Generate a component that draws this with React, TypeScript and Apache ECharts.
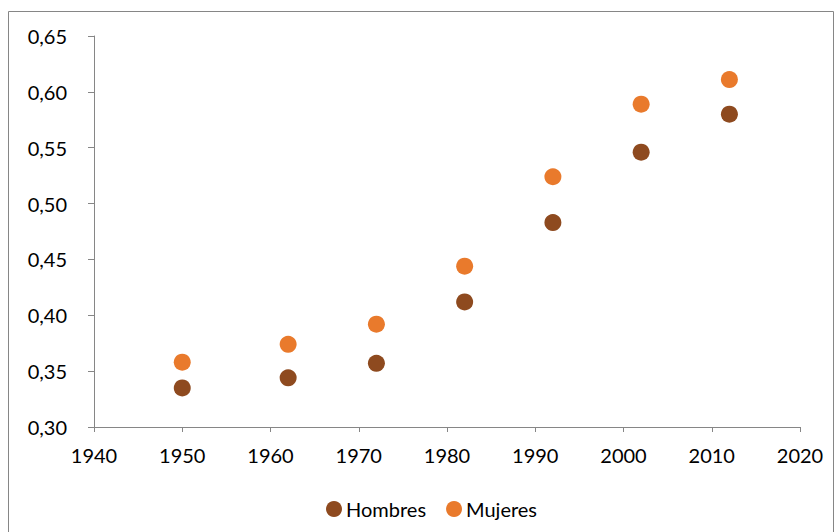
import React, { useEffect, useRef } from "react";
import * as echarts from "echarts";

const years = [1950, 1962, 1972, 1982, 1992, 2002, 2012];
const hombres = [0.335, 0.344, 0.357, 0.412, 0.483, 0.546, 0.580];
const mujeres = [0.358, 0.374, 0.392, 0.444, 0.524, 0.589, 0.611];
const seriesNames = ["Hombres", "Mujeres"];
const colors = ["#8E4A1F", "#E97A2C"];

export default function App() {
  const ref = useRef<HTMLDivElement>(null);
  useEffect(() => {
    if (!ref.current) return;
    const chart = echarts.init(ref.current, undefined, { renderer: "svg" });
    const font = "Lato, 'Open Sans', sans-serif";
    const axisLine = { show: true, lineStyle: { color: "#868686", width: 1 } };
    chart.setOption({
      animation: false,
      backgroundColor: "#ffffff",
      textStyle: { fontFamily: font },
      grid: { left: 94, right: 35, top: 36, bottom: 105 },
      legend: {
        top: 494,
        left: 321,
        itemGap: 20,
        itemWidth: 16,
        itemHeight: 16,
        textStyle: { fontSize: 20, color: "#000", fontFamily: font, padding: [0, 0, 0, -1] },
        data: seriesNames.map((n) => ({ name: n, icon: "circle" })),
      },
      xAxis: {
        type: "value",
        min: 1940,
        max: 2020,
        interval: 10,
        splitLine: { show: false },
        axisLine,
        axisTick: { show: true, length: 5, lineStyle: { color: "#868686" } },
        axisLabel: {
          fontSize: 20,
          color: "#000",
          margin: 18,
          fontFamily: font,
          formatter: (v: number) => String(v),
        },
      },
      yAxis: {
        type: "value",
        min: 0.3,
        max: 0.65,
        interval: 0.05,
        splitLine: { show: false },
        axisLine,
        axisTick: { show: true, length: 6, lineStyle: { color: "#868686" } },
        axisLabel: {
          fontSize: 20,
          color: "#000",
          margin: 27,
          fontFamily: font,
          formatter: (v: number) => v.toFixed(2).replace(".", ","),
        },
      },
      graphic: [
        {
          type: "rect",
          shape: { x: 8.5, y: 11.5, width: 825, height: 530 },
          style: { fill: "none", stroke: "#868686", lineWidth: 1 },
          silent: true,
          z: -1,
        },
      ],
      series: [
        {
          name: seriesNames[0],
          type: "scatter",
          symbolSize: 17,
          itemStyle: { color: colors[0], opacity: 1 },
          data: years.map((y, i) => [y, hombres[i]]),
        },
        {
          name: seriesNames[1],
          type: "scatter",
          symbolSize: 17,
          itemStyle: { color: colors[1], opacity: 1 },
          data: years.map((y, i) => [y, mujeres[i]]),
        },
      ],
    });
    return () => chart.dispose();
  }, []);
  return (
    <div
      ref={ref}
      style={{ position: "fixed", left: 0, top: 0, width: 835, height: 532 }}
    />
  );
}
